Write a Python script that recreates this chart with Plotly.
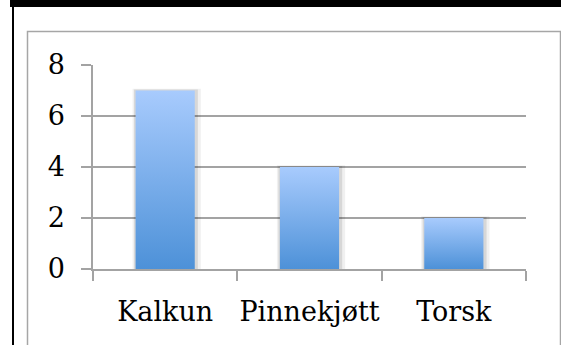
import plotly.graph_objects as go

categories = ["Kalkun", "Pinnekjøtt", "Torsk"]
values = [7, 4, 2]
y_ticks = [0, 2, 4, 6, 8]

BAR_HALF = 0.205
TOP_COLOR = "#a8cbfd"
BOTTOM_COLOR = "#4d91d8"
GRID = "#a3a3a3"
FONT = "DejaVu Serif"

W, H = 561, 345
ML, MR, MT, MB = 93, 35, 65, 76
PW = W - ML - MR
PH = H - MT - MB

def px_to_paper_x(px):
    return (px - ML) / PW

def px_to_paper_y(py):
    return (H - MB - py) / PH

fig = go.Figure()

# soft shadows behind bars
for i, v in enumerate(values):
    for k, alpha in [(0.035, 0.06), (0.018, 0.10)]:
        x0, x1 = i - BAR_HALF - k * 0.6, i + BAR_HALF + k * 1.2
        y0, y1 = -k * 4, v + k * 2
        fig.add_trace(go.Scatter(
            x=[x0, x1, x1, x0, x0], y=[y0, y0, y1, y1, y0],
            mode="lines", fill="toself", line=dict(width=0),
            fillcolor=f"rgba(0,0,0,{alpha})", hoverinfo="skip", showlegend=False,
        ))

# gradient bars
for i, (c, v) in enumerate(zip(categories, values)):
    x0, x1 = i - BAR_HALF, i + BAR_HALF
    fig.add_trace(go.Scatter(
        x=[x0, x1, x1, x0, x0], y=[0, 0, v, v, 0],
        mode="lines", fill="toself", line=dict(width=0),
        fillgradient=dict(type="vertical",
                          colorscale=[[0, BOTTOM_COLOR], [1, TOP_COLOR]]),
        name=c, hoverinfo="name+y", showlegend=False,
    ))

shapes = [
    # gray chart box
    dict(type="rect", xref="paper", yref="paper",
         x0=px_to_paper_x(27.5), x1=px_to_paper_x(560.5),
         y0=px_to_paper_y(360), y1=px_to_paper_y(31.5),
         line=dict(color="#a6a6a6", width=1.5), layer="below"),
    # black frame: top band
    dict(type="rect", xref="paper", yref="paper",
         x0=px_to_paper_x(10), x1=px_to_paper_x(562),
         y0=px_to_paper_y(7), y1=px_to_paper_y(-2),
         line=dict(width=0), fillcolor="black"),
    # black frame: left line
    dict(type="rect", xref="paper", yref="paper",
         x0=px_to_paper_x(12), x1=px_to_paper_x(14),
         y0=px_to_paper_y(350), y1=px_to_paper_y(0),
         line=dict(width=0), fillcolor="black"),
]

fig.update_layout(
    width=W, height=H,
    margin=dict(l=ML, r=MR, t=MT, b=MB, pad=0),
    paper_bgcolor="white", plot_bgcolor="white",
    shapes=shapes,
    font=dict(family=FONT, size=27, color="black"),
    xaxis=dict(
        range=[-0.5, 2.5], tickmode="array",
        tickvals=list(range(len(categories))), ticktext=categories,
        ticks="", showgrid=False, zeroline=False,
        showline=True, linecolor=GRID, linewidth=1.5,
        minor=dict(tickmode="array", tickvals=[-0.5, 0.5, 1.5, 2.5],
                   ticks="outside", ticklen=10, tickwidth=1.5,
                   tickcolor=GRID, showgrid=False),
        tickfont=dict(family=FONT, size=27, color="black"),
        ticklabelstandoff=18,
        fixedrange=True,
    ),
    yaxis=dict(
        range=[0, 8], tickmode="array", tickvals=y_ticks,
        ticks="outside", ticklen=10, tickwidth=1.5, tickcolor=GRID,
        showgrid=True, gridcolor=GRID, gridwidth=1.5,
        zeroline=False, showline=True, linecolor=GRID, linewidth=1.5,
        tickfont=dict(family=FONT, size=27, color="black"),
        ticklabelstandoff=11,
        fixedrange=True,
    ),
)

fig.write_html("out.html", config={"displayModeBar": False})
